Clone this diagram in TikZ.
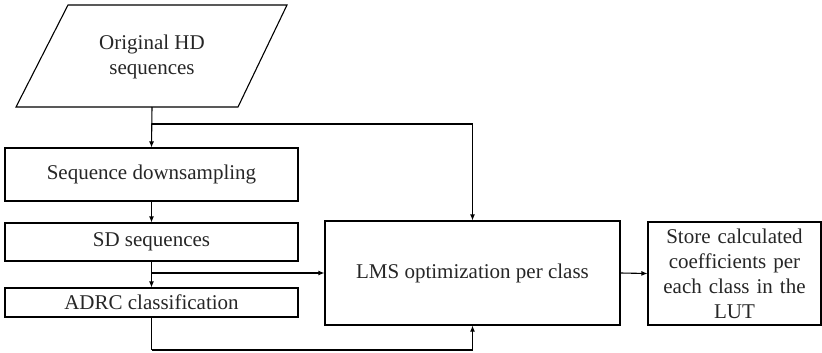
\documentclass[tikz,border=0pt]{standalone}
\usepackage{fontspec}
\setmainfont{Liberation Serif}
\usetikzlibrary{arrows.meta}
\begin{document}
\begin{tikzpicture}[x=1pt,y=-1pt,
  every node/.style={font=\fontsize{21}{24.5}\selectfont, text=black!85},
  box/.style={draw, line width=1.1pt, inner sep=0pt, align=center},
  arr/.style={line width=1.1pt, -{Latex[length=6pt,width=5pt]}},
  ln/.style={line width=1.1pt}]
\useasboundingbox (0,0) rectangle (822,353);
% input parallelogram
\draw[ln] (68,5) -- (287,5) -- (238,107) -- (16,107) -- cycle;
\node[align=center] (orig) at (152,57) {Original HD\\sequences};
\coordinate (origbot) at (152,107);
\coordinate (split1) at (152,124);
% boxes
\node[box, minimum width=293pt, minimum height=53pt] (down) at (151.5,174.5) {Sequence downsampling};
\node[box, minimum width=293pt, minimum height=38pt] (sd) at (151.5,242) {SD sequences};
\node[box, minimum width=293pt, minimum height=29pt] (adrc) at (151.5,302.5) {ADRC classification};
\node[box, minimum width=295pt, minimum height=104pt] (lms) at (472.5,273) {LMS optimization per class};
\node[box, minimum width=173pt, minimum height=103pt, text width=170pt, font=\fontsize{21}{25}\selectfont] (store) at (734.5,273.5) {Store calculated\\coefficients per\\each class in the\\LUT};
\coordinate (split2) at (151.5,273);
\coordinate (bottom) at (151.5,350);
% connectors
\draw[arr] (origbot) -- (down.north);
\draw[arr] (split1) -| (lms.north);
\draw[arr] (down.south) -- (sd.north);
\draw[arr] (sd.south) -- (adrc.north);
\draw[arr] (split2) -- (lms.west);
\draw[ln] (adrc.south) -- (bottom);
\draw[arr] (bottom) -| (lms.south);
\draw[arr] (lms.east) -- (store.west);
\end{tikzpicture}
\end{document}
